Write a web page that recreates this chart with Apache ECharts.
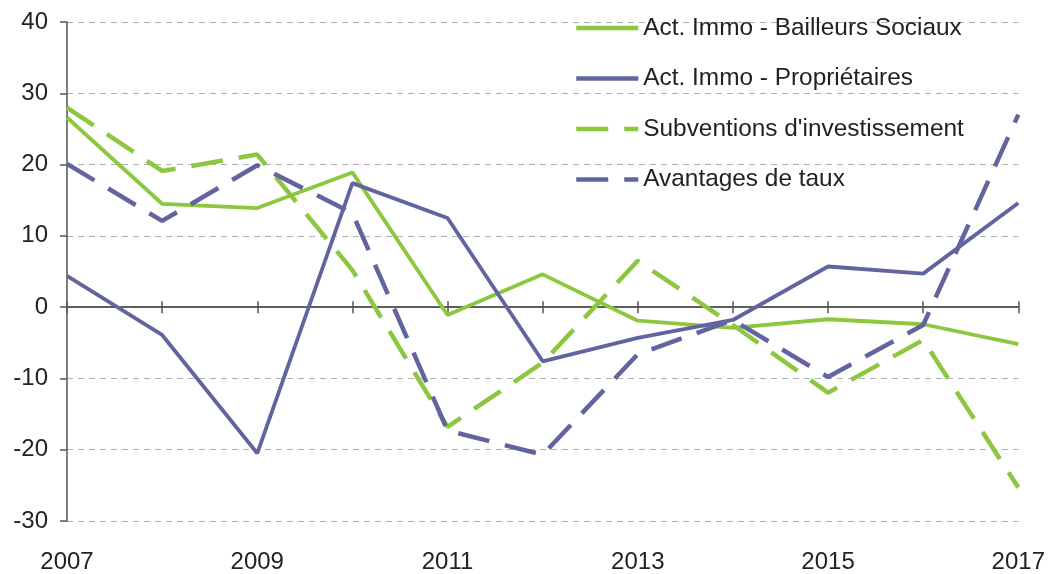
<!DOCTYPE html>
<html>
<head>
<meta charset="utf-8">
<script src="https://cdn.jsdelivr.net/npm/echarts@6/dist/echarts.min.js"></script>
<style>
html,body{margin:0;padding:0;background:#fff;}
#chart{width:1048px;height:574px;}
</style>
</head>
<body>
<div id="chart"></div>
<script>
const years = ['2007','2008','2009','2010','2011','2012','2013','2014','2015','2016','2017'];
const bailleurs = [26.6, 14.5, 13.9, 18.9, -1.1, 4.6, -1.9, -2.9, -1.7, -2.4, -5.2];
const proprietaires = [4.4, -3.9, -20.5, 17.4, 12.5, -7.6, -4.3, -1.8, 5.7, 4.7, 14.6];
const subventions = [28.0, 19.1, 21.4, 5.2, -16.8, -7.8, 6.5, -2.5, -12.0, -4.6, -25.3];
const avantages = [20.1, 12.1, 19.9, 13.2, -17.3, -20.7, -6.6, -1.8, -9.8, -2.5, 27.0];
const seriesNames = ['Act. Immo - Bailleurs Sociaux', 'Act. Immo - Propriétaires', "Subventions d'investissement", 'Avantages de taux'];

const GREEN = '#8dc63f';
const BLUE = '#6264a0';
const FONT = 'Liberation Sans, Arial, sans-serif';

const chart = echarts.init(document.getElementById('chart'), null, {renderer: 'canvas'});

function line(name, data, color, dashed) {
  return {
    name: name,
    type: 'line',
    data: data,
    xAxisIndex: 0,
    yAxisIndex: 0,
    symbol: 'none',
    showSymbol: false,
    smooth: false,
    animation: false,
    lineStyle: {color: color, width: dashed ? 4.5 : 3.8, type: dashed ? [32, 16] : 'solid', cap: 'butt'},
    itemStyle: {color: color}
  };
}

const yCommon = {type: 'value', min: -30, max: 40, interval: 10};

chart.setOption({
  animation: false,
  grid: {left: 67, right: 27, top: 22, bottom: 48, containLabel: false},
  legend: {
    orient: 'vertical',
    left: 569,
    top: 11,
    itemWidth: 62,
    itemHeight: 14,
    itemGap: 26.5,
    data: seriesNames,
    itemStyle: {color: 'transparent', borderColor: 'transparent', borderWidth: 0, opacity: 0},
    lineStyle: {width: 4.5},
    textStyle: {fontFamily: FONT, fontSize: 24.4, color: '#222'}
  },
  xAxis: [
    {
      type: 'category', data: years, boundaryGap: false, position: 'bottom',
      axisLine: {show: false, onZero: false},
      axisTick: {show: false},
      splitLine: {show: false},
      axisLabel: {interval: 1, margin: 29, fontFamily: FONT, fontSize: 24, color: '#222'}
    },
    {
      type: 'category', data: years, boundaryGap: false, position: 'bottom',
      axisLine: {show: true, onZero: true, onZeroAxisIndex: 0, lineStyle: {color: '#555', width: 1.5}},
      axisTick: {show: true, interval: 0, inside: false, length: 6, lineStyle: {color: '#555', width: 1.5}},
      axisLabel: {show: false},
      splitLine: {show: false}
    },
    {
      type: 'category', data: years, boundaryGap: false, position: 'bottom',
      axisLine: {show: true, onZero: true, onZeroAxisIndex: 1, lineStyle: {color: '#555', width: 1.5}},
      axisTick: {show: true, interval: 0, inside: true, length: 6, lineStyle: {color: '#555', width: 1.5}},
      axisLabel: {show: false},
      splitLine: {show: false}
    }
  ],
  yAxis: [
    Object.assign({}, yCommon, {
      position: 'left',
      axisLine: {show: true, onZero: false, lineStyle: {color: '#555', width: 1.5}},
      axisTick: {show: true, inside: false, length: 7, lineStyle: {color: '#555', width: 1.5}},
      axisLabel: {margin: 19, fontFamily: FONT, fontSize: 24, color: '#222'},
      splitLine: {show: true, lineStyle: {color: '#b0b0b0', width: 1.2, type: [6, 5]}}
    }),
    Object.assign({}, yCommon, {
      position: 'left',
      show: true,
      axisLine: {show: false, onZero: false},
      axisTick: {show: false},
      axisLabel: {show: false},
      splitLine: {show: false}
    })
  ],
  series: [
    line(seriesNames[0], bailleurs, GREEN, false),
    line(seriesNames[1], proprietaires, BLUE, false),
    line(seriesNames[2], subventions, GREEN, true),
    line(seriesNames[3], avantages, BLUE, true)
  ]
});
</script>
</body>
</html>
